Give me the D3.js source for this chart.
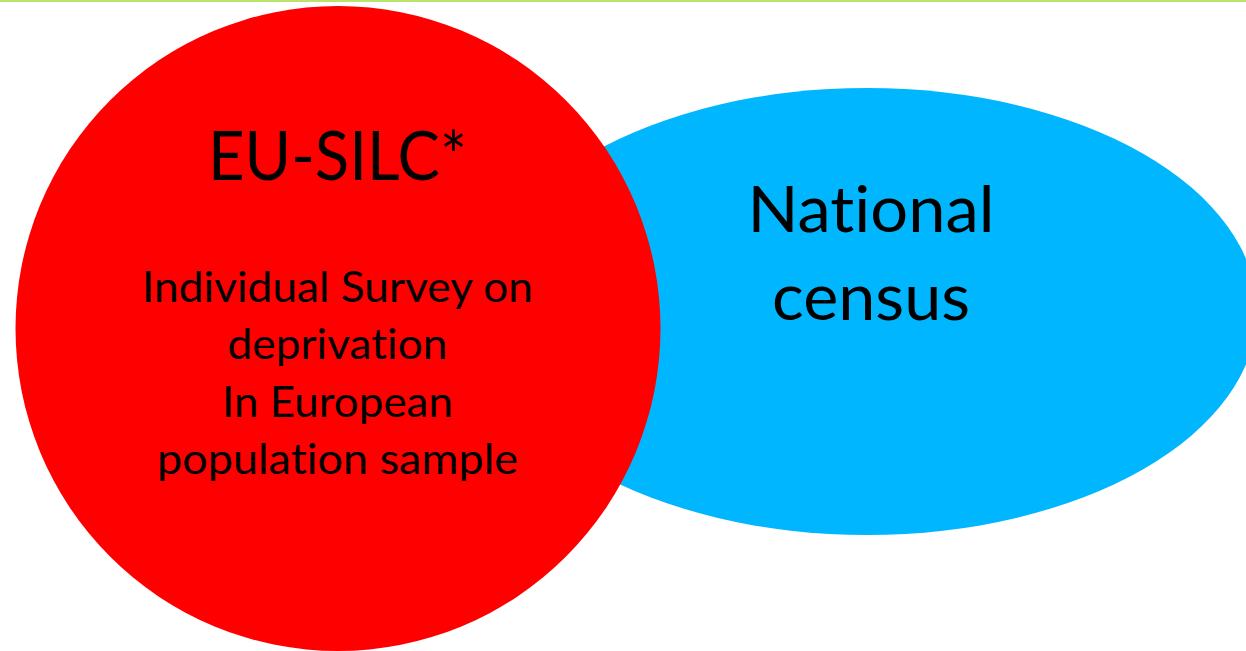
<!DOCTYPE html>
<html>
<head>
<meta charset="utf-8">
<script src="https://cdn.jsdelivr.net/npm/d3@7"></script>
<style>
  html, body { margin: 0; padding: 0; background: #fff; }
  svg { display: block; }
  text { font-variant-ligatures: none; font-feature-settings: "liga" 0, "clig" 0; }
</style>
</head>
<body>
<svg id="venn"></svg>
<script>
// sets in the diagram, drawn back to front
const setNames = ["National census", "EU-SILC*"];
const setColors = ["#00b7ff", "#ff0000"];
// text lines inside each set
const censusLines = ["National", "census"];
const silcTitle = ["EU-SILC*"];
const silcLines = ["Individual Survey on", "deprivation", "In European", "population sample"];

const width = 1246, height = 651;

const svg = d3.select("#venn")
  .attr("width", width)
  .attr("height", height);

// thin green rule along the top, like the slide template
svg.append("rect")
  .attr("x", 0).attr("y", 0)
  .attr("width", width).attr("height", 2)
  .attr("fill", "#bde36f");

// layout of the two shapes
const shapes = [
  {name: setNames[0], cx: 867, cy: 311.5, rx: 390, ry: 223.5},
  {name: setNames[1], cx: 338, cy: 328.5, rx: 322.5, ry: 322.5}
];

const color = d3.scaleOrdinal().domain(setNames).range(setColors);

svg.append("g")
  .selectAll("ellipse")
  .data(shapes)
  .enter()
  .append("ellipse")
    .attr("cx", d => d.cx)
    .attr("cy", d => d.cy)
    .attr("rx", d => d.rx)
    .attr("ry", d => d.ry)
    .attr("fill", d => color(d.name));

const font = "Lato, 'Open Sans', sans-serif";

// draws a block of centred lines; widths follow the original Calibri text
function addLines(lines, x, y0, step, size, widths) {
  svg.append("g")
    .attr("text-anchor", "middle")
    .attr("font-family", font)
    .attr("font-size", size)
    .attr("fill", "#000")
    .selectAll("text")
    .data(lines)
    .enter()
    .append("text")
      .attr("x", x)
      .attr("y", (d, i) => y0 + i * step)
      .attr("textLength", (d, i) => widths[i])
      .attr("lengthAdjust", "spacingAndGlyphs")
      .text(d => d);
}

addLines(silcTitle, 337.5, 180, 0, 67, [259]);
addLines(silcLines, 337.5, 302, 57.3, 42, [391, 220, 231, 361]);
addLines(censusLines, 871, 232, 88, 63, [247, 198]);
</script>
</body>
</html>
